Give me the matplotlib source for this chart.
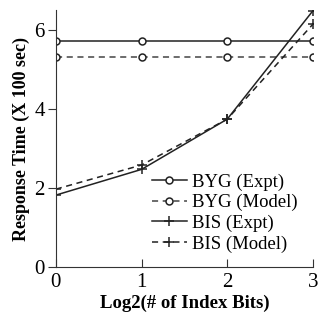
import matplotlib
matplotlib.use('Agg')
import matplotlib.pyplot as plt

bits = [0, 1, 2, 3]
byg_expt = [5.72, 5.72, 5.72, 5.72]
byg_model = [5.32, 5.32, 5.32, 5.32]
bis_expt = [1.82, 2.47, 3.74, 6.48]
bis_model = [1.97, 2.58, 3.74, 6.14]

plt.rcParams['font.family'] = 'Liberation Serif'

fig = plt.figure(figsize=(3.21, 3.29), dpi=100)
ax = fig.add_axes([0.174, 0.188, 0.801, 0.782])

ax.plot(bits, byg_expt, '-', color='#222222', lw=1.1, marker='o', ms=5,
        mfc='white', mec='#222222', mew=1.1, label='BYG (Expt)')
ax.plot(bits, byg_model, '--', color='#444444', lw=1.1, marker='o', ms=5,
        mfc='white', mec='#222222', mew=1.1, label='BYG (Model)', dashes=(4, 3))
ax.plot(bits, bis_expt, '-', color='#222222', lw=1.1, marker='+', ms=7,
        mew=1.1, label='BIS (Expt)')
ax.plot(bits, bis_model, '--', color='#222222', lw=1.1, marker='+', ms=7,
        mew=1.1, label='BIS (Model)', dashes=(4, 3))

ax.set_xlim(0, 3)
ax.set_ylim(0, 6.5)
ax.set_xticks([0, 1, 2, 3])
ax.set_yticks([0, 2, 4, 6])
ax.spines['top'].set_visible(False)
ax.spines['right'].set_visible(False)
for s in ['left', 'bottom']:
    ax.spines[s].set_color('#333333')
ax.tick_params(axis='x', direction='in', length=6, labelsize=15, color='#333333', pad=4)
ax.tick_params(axis='y', direction='out', length=6, labelsize=15, color='#333333', pad=2)

ax.set_xlabel('Log2(# of Index Bits)', fontsize=13.5, fontweight='bold', labelpad=2)
ax.set_ylabel('Response Time (X 100 sec)', fontsize=13, fontweight='bold', labelpad=3)

ax.legend(loc='center left', bbox_to_anchor=(0.345, 0.21), frameon=False,
          fontsize=13.5, handlelength=1.85, handletextpad=0.3, labelspacing=0.18,
          borderaxespad=0)

fig.savefig('out.png', dpi=100)
